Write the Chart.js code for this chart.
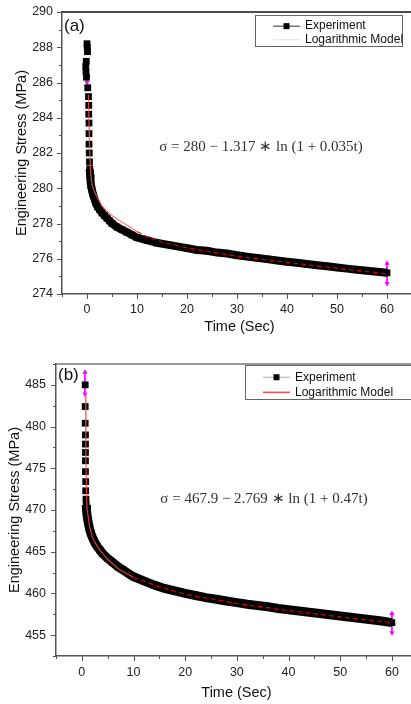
<!DOCTYPE html>
<html>
<head>
<meta charset="utf-8">
<script src="https://cdn.jsdelivr.net/npm/chart.js@4.4.0/dist/chart.umd.min.js"></script>
<style>
  html, body { margin: 0; padding: 0; background: #fff; }
  canvas { display: block; }
</style>
</head>
<body>
<canvas id="chartA" width="411" height="340"></canvas>
<canvas id="chartB" width="411" height="364"></canvas>
<script>
// ---- data ----
const legendLabels = ['Experiment', 'Logarithmic Model'];
const xTickValues = [-5, 0, 5, 10, 15, 20, 25, 30, 35, 40, 45, 50, 55, 60];

// panel (a)
const expTimeA = [0, 0.05, 0.1, -0.15, -0.25, -0.2, -0.1, 0.15, 0.3, 0.35, 0.35, 0.4, 0.4, 0.4, 0.45, 0.5, 0.55, 0.6,
  0.7, 0.8, 1.0, 1.25, 1.5, 1.8, 2.1, 2.5, 3, 3.5, 4, 4.5, 5, 6, 7, 8, 9, 10,
  12, 14, 16, 18, 20, 22, 24, 26, 28, 30, 32, 34, 36, 38, 40, 42, 44, 46, 48, 50, 52, 54, 56, 58, 60];
const expStressA = [288.2, 288.0, 287.75, 287.2, 286.9, 286.6, 286.3, 285.7, 285.2, 284.7, 284.2, 283.7, 283.1, 282.5, 282.0, 281.5, 281.1, 280.8,
  280.45, 280.15, 279.9, 279.6, 279.4, 279.15, 278.95, 278.8, 278.6, 278.45, 278.3, 278.15, 278.0, 277.8, 277.65, 277.5, 277.35, 277.2,
  277.05, 276.9, 276.8, 276.7, 276.6, 276.5, 276.45, 276.35, 276.3, 276.2, 276.12, 276.05, 275.98, 275.9, 275.83, 275.77, 275.7, 275.63, 275.57, 275.5, 275.44, 275.38, 275.32, 275.26, 275.2];
const modelTimeA = [0.3, 0.4, 0.5, 0.7, 1.0, 1.5, 2, 3, 4, 5, 6, 8, 10, 12, 15, 20, 25, 30, 35, 40, 45, 50, 55, 60];
const modelStressA = [285.3, 283.5, 282.2, 281.0, 280.2, 279.8, 279.5, 279.0, 278.7, 278.45, 278.25, 277.9, 277.55, 277.25, 276.95, 276.62, 276.38, 276.15, 275.97, 275.8, 275.63, 275.47, 275.3, 275.15];
const errTimeA = [0, 60];
const errHighA = [287.2, 275.75];
const errLowA = [286.0, 274.6];
const yTickValuesA = [274, 275, 276, 277, 278, 279, 280, 281, 282, 283, 284, 285, 286, 287, 288, 289, 290];
const equationA = 'σ = 280 − 1.317 ∗ ln (1 + 0.035t)';

// panel (b)
const expTimeB = [0.65, 0.65, 0.65, 0.7, 0.7, 0.7, 0.7, 0.7, 0.75, 0.75, 0.8, 0.85, 0.9,
  1.0, 1.2, 1.5, 1.75, 2, 2.5, 3, 3.5, 4, 5, 6, 7, 8, 9, 10,
  12, 14, 16, 18, 20, 22, 24, 26, 28, 30, 32, 34, 36, 38, 40, 42, 44, 46, 48, 50, 52, 54, 56, 58, 60];
const expStressB = [485.0, 482.4, 480.4, 479.0, 477.9, 476.9, 475.9, 474.6, 473.4, 472.3, 471.3, 470.6, 470.0,
  469.4, 468.6, 467.7, 467.2, 466.8, 466.1, 465.6, 465.2, 464.8, 464.2, 463.7, 463.2, 462.8, 462.4, 462.0,
  461.5, 461.0, 460.6, 460.3, 460.0, 459.75, 459.5, 459.3, 459.1, 458.9, 458.7, 458.55, 458.4, 458.2, 458.05, 457.9, 457.75, 457.6, 457.45, 457.3, 457.15, 457.0, 456.85, 456.7, 456.5];
const modelTimeB = [0.7, 0.75, 0.8, 0.9, 1.0, 1.5, 2, 3, 4, 5, 7, 10, 15, 20, 30, 40, 50, 60];
const modelStressB = [483.8, 480, 476.5, 472.5, 470.2, 468.0, 466.8, 465.6, 464.8, 464.1, 463.0, 461.9, 460.8, 459.9, 458.8, 457.95, 457.2, 456.5];
const errTimeB = [0.6, 60];
const errHighB = [486.5, 457.6];
const errLowB = [483.9, 455.3];
const yTickValuesB = [452.5, 455, 457.5, 460, 462.5, 465, 467.5, 470, 472.5, 475, 477.5, 480, 482.5, 485, 487.5];
const equationB = 'σ = 467.9 − 2.769 ∗ ln (1 + 0.47t)';

const toPoints = (xs, ys) => xs.map((x, i) => ({ x: x, y: ys[i] }));

// ticks, frame, legend, equation and titles
const decor = {
  id: 'decor',
  afterDraw(chart, args, o) {
    const { ctx, chartArea: a, scales: { x, y } } = chart;
    ctx.save();

    ctx.strokeStyle = o.frameColor;
    ctx.lineWidth = 1.5;
    ctx.beginPath();
    ctx.moveTo(a.left, a.top);
    ctx.lineTo(a.right, a.top);
    ctx.stroke();

    ctx.strokeStyle = '#555';
    ctx.lineWidth = 1;
    ctx.beginPath();
    x.ticks.forEach(t => {
      if (!xTickValues.includes(t.value)) return;
      const px = Math.round(x.getPixelForValue(t.value)) + 0.5;
      ctx.moveTo(px, a.bottom);
      ctx.lineTo(px, a.bottom + (t.label ? 5 : 3));
    });
    y.ticks.forEach(t => {
      const py = Math.round(y.getPixelForValue(t.value)) + 0.5;
      ctx.moveTo(a.left, py);
      ctx.lineTo(a.left - (t.label ? 5 : 3), py);
    });
    ctx.stroke();

    // legend
    const L = o.legend;
    ctx.fillStyle = '#fff';
    ctx.fillRect(L.x, L.y, L.w, L.h);
    ctx.strokeStyle = '#666';
    ctx.lineWidth = 1;
    ctx.strokeRect(L.x + 0.5, L.y + 0.5, L.w, L.h);
    const rows = [L.y + L.h * 0.36, L.y + L.h * 0.8];
    ctx.strokeStyle = o.expLegendLine;
    ctx.beginPath();
    ctx.moveTo(L.x + 18, rows[0]);
    ctx.lineTo(L.x + 45, rows[0]);
    ctx.stroke();
    ctx.fillStyle = '#000';
    ctx.fillRect(L.x + 28.5, rows[0] - 3, 6, 6);
    ctx.strokeStyle = o.modelLegendLine;
    ctx.beginPath();
    ctx.moveTo(L.x + 18, rows[1]);
    ctx.lineTo(L.x + 45, rows[1]);
    ctx.stroke();
    ctx.fillStyle = '#111';
    ctx.font = '12px "Liberation Sans", Arial, sans-serif';
    ctx.textAlign = 'left';
    ctx.textBaseline = 'middle';
    legendLabels.forEach((lab, i) => ctx.fillText(lab, L.x + 50, rows[i]));

    // equation
    ctx.font = '15px "Liberation Serif", "Times New Roman", serif';
    ctx.fillStyle = '#333';
    ctx.textAlign = 'center';
    ctx.fillText(o.equation, o.eqX, o.eqY);

    // panel letter
    ctx.font = '17px "Liberation Sans", Arial, sans-serif';
    ctx.fillStyle = '#111';
    ctx.textAlign = 'left';
    ctx.fillText(o.letter, a.left + 2, o.letterY);

    // axis titles
    ctx.font = '14.5px "Liberation Sans", Arial, sans-serif';
    ctx.fillStyle = '#111';
    ctx.textAlign = 'center';
    ctx.fillText('Time (Sec)', (a.left + a.right) / 2 + 3, o.xTitleY);
    ctx.translate(o.yTitleX, (a.top + a.bottom) / 2);
    ctx.rotate(-Math.PI / 2);
    ctx.fillText('Engineering Stress (MPa)', 0, 0);

    ctx.restore();
  }
};

function makeChart(id, cfg) {
  const errData = cfg.errT.map((t, i) => ({
    type: 'line',
    data: [{ x: t, y: cfg.errHi[i] }, { x: t, y: cfg.errLo[i] }],
    showLine: true,
    borderColor: '#ff00ff',
    borderWidth: 1,
    backgroundColor: '#ff00ff',
    pointStyle: 'triangle',
    pointRadius: 3,
    rotation: [0, 180],
    pointBorderWidth: 0
  }));
  return new Chart(document.getElementById(id), {
    type: 'line',
    data: {
      datasets: [
        {
          label: legendLabels[1],
          data: toPoints(cfg.modelT, cfg.modelS),
          borderColor: cfg.modelColor,
          borderWidth: 1.2,
          pointRadius: 0,
          segment: {
            borderDash: c => (c.p0.parsed.x >= 10 ? [5, 3] : undefined),
            borderColor: c => (c.p0.parsed.x >= 10 ? 'rgba(230,0,0,0.9)' : undefined)
          }
        },
        {
          label: legendLabels[0],
          data: toPoints(cfg.expT, cfg.expS),
          borderColor: '#000',
          borderWidth: cfg.bandWidth,
          backgroundColor: '#000',
          pointStyle: 'rect',
          pointRadius: 4.8,
          pointBorderWidth: 0,
          segment: {
            borderColor: c => (c.p0.parsed.y > cfg.gapAbove ? 'rgba(0,0,0,0)' : undefined)
          }
        },
        ...errData
      ]
    },
    options: {
      responsive: false,
      animation: false,
      events: [],
      layout: { autoPadding: false, padding: { top: cfg.top, left: 0, right: 0, bottom: 0 } },
      plugins: {
        legend: { display: false },
        tooltip: { enabled: false },
        decor: {
          frameColor: cfg.frameColor,
          legend: cfg.legendBox,
          expLegendLine: cfg.expLegendLine,
          modelLegendLine: cfg.modelLegendLine,
          equation: cfg.equation,
          eqX: cfg.eqX,
          eqY: cfg.eqY,
          letter: cfg.letter,
          letterY: cfg.letterY,
          xTitleY: cfg.xTitleY,
          yTitleX: cfg.yTitleX
        }
      },
      scales: {
        x: {
          type: 'linear',
          min: -5,
          max: cfg.xMax,
          afterBuildTicks: s => {
            s.ticks = xTickValues.map(v => ({ value: v }));
            s.ticks.push({ value: cfg.xMax });
          },
          afterFit: s => {
            s.height = cfg.xHeight;
            s.paddingLeft = 0;
            s.paddingRight = 0;
          },
          grid: { display: false, drawTicks: false },
          border: { display: true, color: '#555', width: 1.5 },
          ticks: {
            autoSkip: false,
            maxRotation: 0,
            padding: cfg.xPad,
            color: '#222',
            font: { family: '"Liberation Sans", Arial, sans-serif', size: 12.5 },
            callback: v => (v % 10 === 0 ? String(v) : '')
          }
        },
        y: {
          type: 'linear',
          min: cfg.yMin,
          max: cfg.yMax,
          afterBuildTicks: s => { s.ticks = cfg.yTicks.map(v => ({ value: v })); },
          afterFit: s => {
            s.width = cfg.yWidth;
            s.paddingTop = 0;
            s.paddingBottom = 0;
          },
          grid: { display: false, drawTicks: false },
          border: { display: true, color: '#555', width: 1.5 },
          ticks: {
            autoSkip: false,
            padding: cfg.yPad,
            color: '#222',
            font: { family: '"Liberation Sans", Arial, sans-serif', size: 12.5 },
            callback: v => (v % cfg.yLabelStep === 0 ? String(v) : '')
          }
        }
      }
    },
    plugins: [decor]
  });
}

makeChart('chartA', {
  expT: expTimeA, expS: expStressA, modelT: modelTimeA, modelS: modelStressA,
  errT: errTimeA, errHi: errHighA, errLo: errLowA,
  yTicks: yTickValuesA, yMin: 274, yMax: 290, yLabelStep: 2, xMax: 64.8,
  top: 12, yWidth: 62, xHeight: 46, xPad: 8, yPad: 9, gapAbove: 281.2, bandWidth: 8,
  modelColor: 'rgba(255,90,90,0.8)', frameColor: '#111',
  expLegendLine: '#333', modelLegendLine: 'rgba(255,170,170,0.5)',
  legendBox: { x: 255, y: 15, w: 147, h: 31 },
  equation: equationA, eqX: 261, eqY: 147, letter: '(a)', letterY: 26,
  xTitleY: 327, yTitleX: 22
});

makeChart('chartB', {
  expT: expTimeB, expS: expStressB, modelT: modelTimeB, modelS: modelStressB,
  errT: errTimeB, errHi: errHighB, errLo: errLowB,
  yTicks: yTickValuesB, yMin: 452.5, yMax: 487.5, yLabelStep: 5, xMax: 63.7,
  top: 24, yWidth: 56, xHeight: 48, xPad: 9, yPad: 10, gapAbove: 471, bandWidth: 9,
  modelColor: 'rgba(255,70,70,0.85)', frameColor: '#777',
  expLegendLine: '#aaa', modelLegendLine: '#e00',
  legendBox: { x: 245, y: 25, w: 170, h: 34 },
  equation: equationB, eqX: 264, eqY: 159, letter: '(b)', letterY: 35,
  xTitleY: 353, yTitleX: 15
});
</script>
</body>
</html>
